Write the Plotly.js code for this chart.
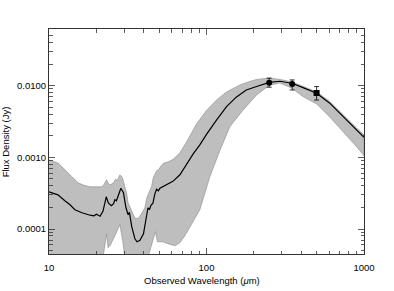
<!DOCTYPE html>
<html>
<head>
<meta charset="utf-8">
<script src="https://cdn.plot.ly/plotly-3.0.1.min.js"></script>
<style>html,body{margin:0;padding:0;background:#fff;}#chart{width:394px;height:291px;}</style>
</head>
<body>
<div id="chart"></div>
<script>
// Model SED (black line)
const modelLam = [10.0,10.6,11.4,12.6,13.6,14.6,16.2,18.2,19.3,20.0,21.1,22.0,23.1,23.8,24.9,25.7,26.2,26.8,27.6,28.6,29.7,30.8,31.8,32.4,33.5,35.1,36.2,37.8,39.8,41.5,42.5,43.4,44.4,45.7,47.0,48.2,49.4,50.6,55.8,61.2,67.8,74.7,82.3,90.7,100,116,134,155,179,208,250,292,349,410,501,606,736,895,1000];
const modelFlux = [3.31e-4,3.20e-4,3.00e-4,2.48e-4,2.18e-4,1.86e-4,1.69e-4,1.56e-4,1.53e-4,1.61e-4,1.51e-4,1.77e-4,2.82e-4,2.32e-4,2.11e-4,2.25e-4,2.56e-4,2.48e-4,2.91e-4,3.70e-4,3.20e-4,1.98e-4,1.58e-4,1.71e-4,1.09e-4,7.33e-5,6.65e-5,6.98e-5,8.60e-5,1.44e-4,1.98e-4,1.86e-4,2.15e-4,2.29e-4,3.10e-4,3.58e-4,3.42e-4,3.70e-4,4.14e-4,4.63e-4,5.71e-4,7.99e-4,1.12e-3,1.49e-3,2.09e-3,3.33e-3,5.10e-3,6.96e-3,8.71e-3,9.74e-3,1.108e-2,1.151e-2,1.080e-2,9.38e-3,7.84e-3,5.69e-3,3.70e-3,2.42e-3,1.90e-3];

// Upper envelope of the band
const upperLam = [10.0,10.6,11.5,12.1,13.3,14.0,15.3,16.7,18.2,21.6,22.3,23.2,23.8,24.4,25.7,26.4,27.1,28.2,29.2,30.3,31.1,31.8,33.5,35.1,36.9,38.3,40.6,41.8,44.8,45.9,48.2,49.4,53.1,57.1,61.4,67.8,74.7,86.5,100,116,134,163,188,208,250,292,349,410,501,606,736,895,1000];
const upperFlux = [9.23e-4,8.80e-4,8.25e-4,7.37e-4,6.08e-4,5.35e-4,4.41e-4,4.07e-4,3.88e-4,3.88e-4,4.14e-4,4.86e-4,4.34e-4,4.14e-4,4.41e-4,4.94e-4,4.78e-4,5.71e-4,5.26e-4,3.92e-4,3.17e-4,2.32e-4,1.74e-4,1.41e-4,1.41e-4,1.58e-4,1.98e-4,2.73e-4,3.92e-4,5.18e-4,6.49e-4,6.70e-4,8.25e-4,8.66e-4,9.38e-4,1.155e-3,1.64e-3,2.93e-3,4.51e-3,6.32e-3,8.17e-3,1.023e-2,1.144e-2,1.22e-2,1.28e-2,1.22e-2,1.126e-2,9.74e-3,8.17e-3,6.02e-3,3.91e-3,2.58e-3,2.06e-3];

// Lower envelope of the band (1e-5 = below the plotted range)
const lowerLam = [10.0,21.7,22.2,23.2,23.7,24.4,26.2,28.2,29.5,30.1,30.6,42.2,43.1,47.4,48.8,52.9,56.9,63.0,67.8,72.9,78.4,90.7,105,122,141,171,208,250,292,349,410,501,606,733,899,1000];
const lowerFlux = [1e-5,1e-5,4.5e-5,8.60e-5,5.49e-5,5.85e-5,8.06e-5,1.148e-4,6.44e-5,4.5e-5,1e-5,1e-5,4.5e-5,9.17e-5,6.65e-5,6.65e-5,6.24e-5,5.85e-5,6.44e-5,8.06e-5,1.042e-4,1.86e-4,5.35e-4,1.27e-3,2.69e-3,4.59e-3,7.42e-3,1.006e-2,1.09e-2,9.20e-3,7.03e-3,5.56e-3,3.66e-3,2.34e-3,1.40e-3,1.049e-3];

// Observed photometry
const obsLam = [250, 350, 500];
const obsFlux = [0.0110, 0.0105, 0.0079];
const obsErrPlus = [0.0017, 0.0015, 0.0018];
const obsErrMinus = [0.0015, 0.0018, 0.0016];
const obsSymbols = ['circle', 'circle', 'square'];

const bandX = upperLam.concat(lowerLam.slice().reverse());
const bandY = upperFlux.concat(lowerFlux.slice().reverse());

const font = {family: 'Liberation Sans, Arial, sans-serif', size: 9.5, color: '#000'};

const traces = [
  {x: bandX, y: bandY, type: 'scatter', mode: 'lines', fill: 'toself',
   fillcolor: '#bebebe', line: {color: '#8a8a8a', width: 0.6}, hoverinfo: 'skip'},
  {x: modelLam, y: modelFlux, type: 'scatter', mode: 'lines',
   line: {color: '#000', width: 1.2}},
  {x: obsLam, y: obsFlux, type: 'scatter', mode: 'markers',
   marker: {color: '#000', size: 6, symbol: obsSymbols},
   error_y: {type: 'data', symmetric: false, array: obsErrPlus, arrayminus: obsErrMinus,
             color: '#000', thickness: 0.8, width: 2.5}}
];

const axisCommon = {
  type: 'log', showgrid: false, zeroline: false, showline: true, linecolor: '#333',
  linewidth: 1, mirror: 'ticks', ticks: 'inside', ticklen: 6, tickcolor: '#333',
  tickwidth: 0.8, tickfont: font, tickmode: 'linear', tick0: 0, dtick: 1,
  minor: {dtick: 'D1', ticks: 'inside', ticklen: 3.5, tickcolor: '#333', tickwidth: 0.8, showgrid: false}
};

const layout = {
  width: 394, height: 291,
  margin: {l: 49, r: 29.7, t: 29, b: 36.7},
  paper_bgcolor: '#fff', plot_bgcolor: '#fff',
  showlegend: false,
  xaxis: Object.assign({}, axisCommon, {range: [1, 3], ticklabelstandoff: 5}),
  yaxis: Object.assign({}, axisCommon, {range: [-4.348, -1.2103], tickformat: '.4f'}),
  annotations: [
    {text: 'Observed Wavelength (<i>μ</i>m)', xref: 'paper', yref: 'paper',
     x: 0.487, y: -0.1185, xanchor: 'center', yanchor: 'middle', showarrow: false, font: font},
    {text: 'Flux Density (Jy)', xref: 'paper', yref: 'paper', textangle: -90,
     x: -0.137, y: 0.5, xanchor: 'center', yanchor: 'middle', showarrow: false, font: font}
  ]
};

Plotly.newPlot('chart', traces, layout, {staticPlot: true, displayModeBar: false});
</script>
</body>
</html>
